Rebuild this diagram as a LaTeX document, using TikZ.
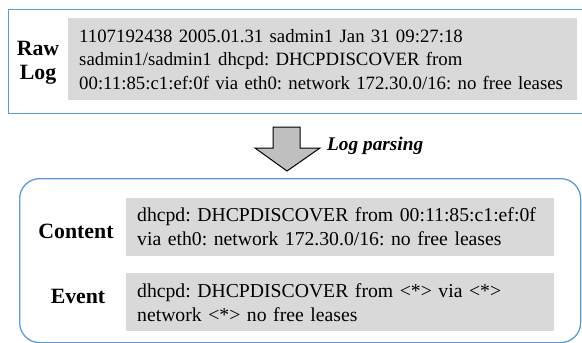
\documentclass[tikz,border=0pt]{standalone}
\usepackage{fontspec}
\setmainfont{Liberation Serif}
\frenchspacing
\definecolor{frameblue}{HTML}{5B9BD5}
\definecolor{boxgray}{HTML}{D9D9D9}
\definecolor{arrowgray}{HTML}{BFBFBF}
\tikzset{
  outerbox/.style={draw=frameblue, line width=1.3pt, anchor=north west, inner sep=0pt},
  graybox/.style={fill=boxgray, anchor=north west, align=left, inner ysep=0pt, inner xsep=11pt,
     font=\fontsize{19.7}{24}\selectfont\frenchspacing},
  sidelabel/.style={font=\fontsize{21.8}{24}\selectfont\bfseries, align=center, inner sep=0pt},
  blockarrow/.style={fill=arrowgray, draw=black, line width=1pt, line join=miter},
  parselabel/.style={font=\fontsize{19.3}{23}\selectfont\bfseries\itshape, anchor=base west, inner sep=0pt}
}
\begin{document}
\begin{tikzpicture}[x=1pt, y=-1pt]
\useasboundingbox (0,0) rectangle (582,343);
% top frame
\node[outerbox, minimum width=580pt, minimum height=104pt] (rawframe) at (8,9) {};
\node[graybox, text width=487pt, minimum height=82pt, inner xsep=11pt,
      font=\fontsize{18.8}{23.5}\selectfont\frenchspacing] (rawtext) at (68,18)
  {\mbox{1107192438 2005.01.31 sadmin1 Jan 31 09:27:18}\\
   \mbox{sadmin1/sadmin1 dhcpd: DHCPDISCOVER from}\\
   \mbox{00:11:85:c1:ef:0f via eth0: network 172.30.0/16: no free leases}};
\node[sidelabel] (rawlabel) at (38,63) {Raw\\Log};
% arrow
\draw[blockarrow] (273,127) -- (300,127) -- (300,148) -- (320,148) -- (287,171)
  -- (255,148) -- (273,148) -- cycle;
\node[parselabel] (parse) at (327,150) {Log parsing};
% bottom frame
\node[outerbox, rounded corners=20pt, minimum width=561pt, minimum height=164pt] (resultframe) at (19,178) {};
\node[graybox, text width=406pt, minimum height=58pt] (contenttext) at (126,198)
  {dhcpd: DHCPDISCOVER from 00:11:85:c1:ef:0f\\
   via eth0: network 172.30.0/16: no free leases};
\node[sidelabel, anchor=base] (contentlabel) at (76,238) {Content};
\node[graybox, text width=406pt, minimum height=58pt] (eventtext) at (126,273)
  {dhcpd: DHCPDISCOVER from <*> via <*>\\
   network <*> no free leases};
\node[sidelabel, anchor=base] (eventlabel) at (78,303) {Event};
\end{tikzpicture}
\end{document}
